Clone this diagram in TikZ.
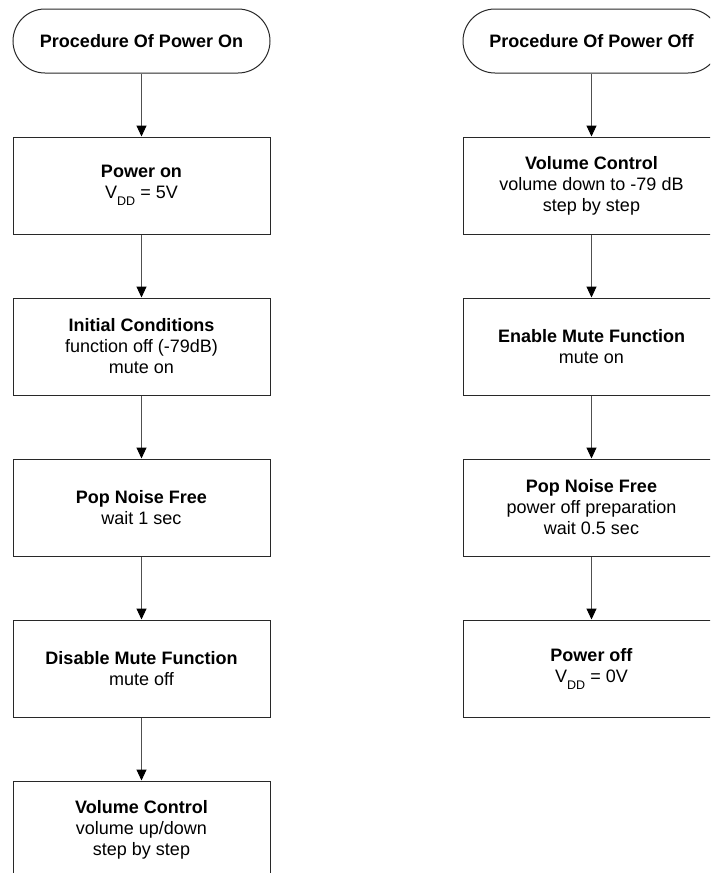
\documentclass[tikz,border=0pt]{standalone}
\usepackage{fontspec}
\setmainfont{Liberation Sans}
\usetikzlibrary{arrows.meta}

\definecolor{edge}{RGB}{40,40,40}
\definecolor{wire}{RGB}{80,80,80}

\newcommand{\vdd}{V\raisebox{-7pt}{\fontsize{12.5}{12.5}\selectfont DD}}

\tikzset{
  stage/.style={draw=edge,line width=1pt,minimum width=257pt,minimum height=97pt,
    inner sep=0pt,align=center,font=\fontsize{18}{21}\selectfont},
  terminal/.style={stage,minimum height=64pt,rounded corners=32pt},
  flow/.style={arrows={-Triangle[length=11pt,width=10pt,color=black]},line width=1pt,draw=wire}
}

\begin{document}
\begin{tikzpicture}[x=1pt,y=-1pt]

    \useasboundingbox (0,0) rectangle (710,873);
    \clip (0,0) rectangle (710,873);

    % power on
    \node[terminal] (a) at (141.5,41)    {\textbf{Procedure Of Power On}};
    \node[stage]    (b) at (141.5,185.5) {\textbf{Power on}\\\vdd{} = 5V};
    \node[stage]    (c) at (141.5,346.5) {\textbf{Initial Conditions}\\function off (-79dB)\\mute on};
    \node[stage]    (d) at (141.5,507.5) {\textbf{Pop Noise Free}\\wait 1 sec};
    \node[stage]    (e) at (141.5,668.5) {\textbf{Disable Mute Function}\\mute off};
    \node[stage]    (f) at (141.5,829.5) {\textbf{Volume Control}\\volume up/down\\step by step};

    % power off
    \node[terminal] (g) at (591.5,41)    {\textbf{Procedure Of Power Off}};
    \node[stage]    (h) at (591.5,185.5) {\textbf{Volume Control}\hspace{18pt}\\volume down to -79 dB\\step by step};
    \node[stage]    (i) at (591.5,346.5) {\textbf{Enable Mute Function}\\mute on};
    \node[stage]    (j) at (591.5,507.5) {\textbf{Pop Noise Free}\\power off preparation\\wait 0.5 sec};
    \node[stage]    (k) at (591.5,668.5) {\textbf{Power off}\\\vdd{} = 0V};

    \draw[flow] (a) -- (b);
    \draw[flow] (b) -- (c);
    \draw[flow] (c) -- (d);
    \draw[flow] (d) -- (e);
    \draw[flow] (e) -- (f);

    \draw[flow] (g) -- (h);
    \draw[flow] (h) -- (i);
    \draw[flow] (i) -- (j);
    \draw[flow] (j) -- (k);

\end{tikzpicture}
\end{document}
